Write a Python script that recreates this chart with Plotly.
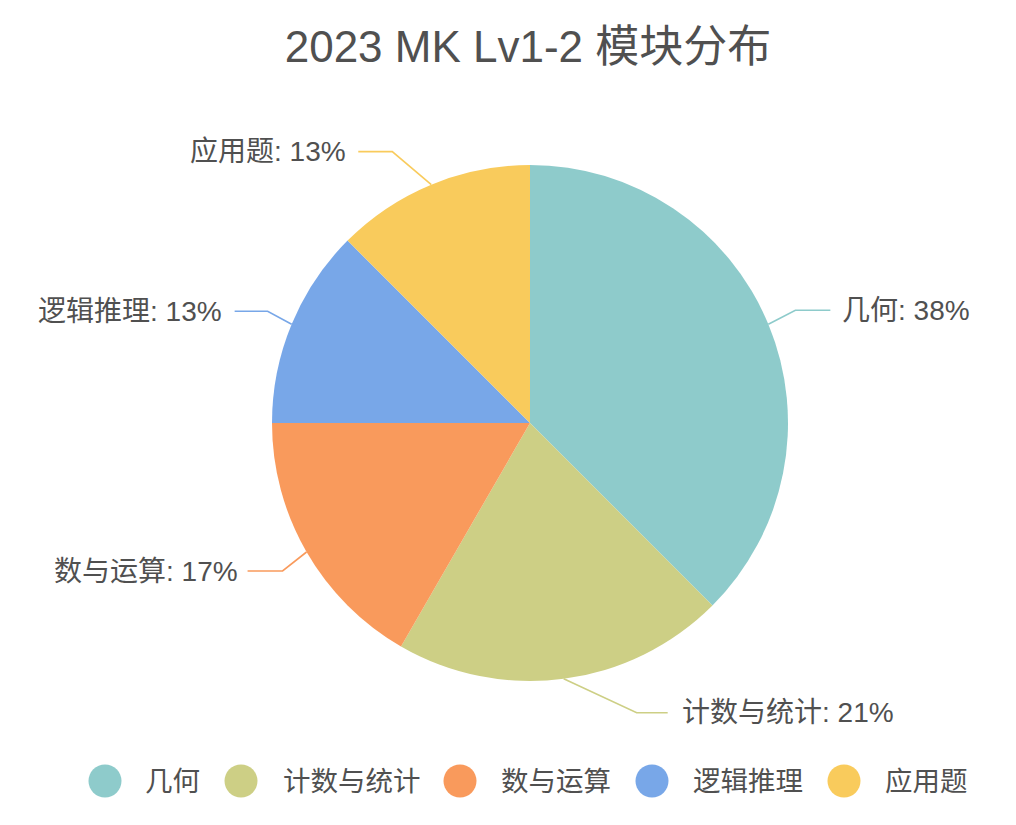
import math
import plotly.graph_objects as go

categories = ["几何", "计数与统计", "数与运算", "逻辑推理", "应用题"]
values = [9, 5, 4, 3, 3]
percent_labels = ["38%", "21%", "17%", "13%", "13%"]
colors = ["#8ECBCB", "#CDCF85", "#F99A5C", "#78A7E8", "#F9CB5C"]
title_text = "2023 MK Lv1-2 模块分布"

W, H = 1016, 825
CX, CY, R = 530, 423, 258
FONT = "Liberation Sans, Noto Sans CJK SC"
TEXT = "#505050"

fig = go.Figure()
fig.add_trace(go.Pie(
    labels=categories, values=values, sort=False, direction="clockwise", rotation=0,
    textinfo="none", hoverinfo="label+percent", showlegend=False,
    marker=dict(colors=colors, line=dict(color="rgba(255,255,255,0)", width=0)),
    domain=dict(x=[(CX - R) / W, (CX + R) / W], y=[1 - (CY + R) / H, 1 - (CY - R) / H]),
))

# Leader styling per slice: elbow offset from the rim (px), horizontal run (px), gap to text (px)
elbow_dx = [27, 73, -24, -24, -39]
elbow_dy = [-14, 34, 19, -13, -33]
run = [35, 31, 35, 33, 34]
gap = [10, 12, 8, 11, 10]

total = sum(values)
acc = 0
for i, (cat, val, col, pct) in enumerate(zip(categories, values, colors, percent_labels)):
    mid = (acc + val / 2) / total * 2 * math.pi
    acc += val
    x0, y0 = CX + R * math.sin(mid), CY - R * math.cos(mid)
    x1, y1 = x0 + elbow_dx[i], y0 + elbow_dy[i]
    side = 1 if math.sin(mid) > 0 else -1
    x2 = x1 + side * run[i]
    fig.add_trace(go.Scatter(
        x=[x0, x1, x2], y=[y0, y1, y1], mode="lines",
        line=dict(color=col, width=1.6), showlegend=False, hoverinfo="skip",
    ))
    fig.add_annotation(
        x=x2 + side * gap[i], y=y1, xref="x", yref="y", showarrow=False,
        xanchor="left" if side > 0 else "right", yanchor="middle",
        text=f"{cat}: {pct}", font=dict(size=28, color=TEXT, family=FONT),
    )

# Legend row
legend_x = [105, 241, 460, 652, 844]
legend_tx = [143, 281, 499, 691, 883]
legend_y = 781
fig.add_trace(go.Scatter(
    x=legend_x, y=[legend_y] * 5, mode="markers",
    marker=dict(size=33, color=colors), showlegend=False, hoverinfo="skip",
))
for cat, tx in zip(categories, legend_tx):
    fig.add_annotation(
        x=tx, y=legend_y, xref="x", yref="y", showarrow=False,
        xanchor="left", yanchor="middle", text=cat,
        font=dict(size=27.5, color=TEXT, family=FONT),
    )

fig.update_layout(
    width=W, height=H, margin=dict(l=0, r=0, t=0, b=0),
    paper_bgcolor="#FFFFFF", plot_bgcolor="rgba(0,0,0,0)", showlegend=False,
    xaxis=dict(range=[0, W], visible=False, fixedrange=True),
    yaxis=dict(range=[H, 0], visible=False, fixedrange=True),
    title=dict(text=title_text, x=528 / W, xanchor="center", y=1 - 47 / H, yanchor="middle",
               font=dict(size=44, color=TEXT, family=FONT)),
)
fig.write_html("out.html", config=dict(displayModeBar=False),
               post_script="document.body.style.margin='0';document.documentElement.style.overflow='hidden';")
